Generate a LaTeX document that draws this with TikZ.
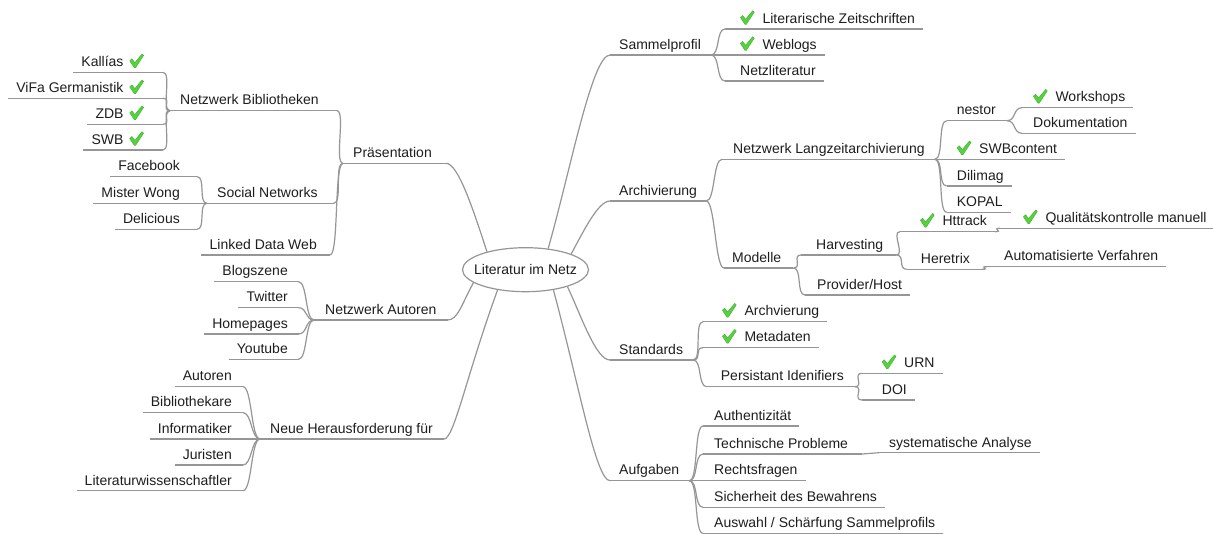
\documentclass[tikz,border=0pt]{standalone}
\usepackage{fontspec}
\setmainfont{Liberation Sans}
\usetikzlibrary{shapes.geometric}
\definecolor{lc}{RGB}{150,150,150}
\definecolor{txt}{RGB}{30,30,30}
\definecolor{chkg}{RGB}{85,210,60}
\definecolor{chkd}{RGB}{50,165,40}
\newcommand\chk{\tikz[baseline=0pt,x=1pt,y=1pt]\filldraw[draw=chkd,fill=chkg,line width=0.3pt,line join=round] (0,5.8) -- (2.3,7.8) -- (5.2,4.0) -- (12.3,12.6) -- (14,11.2) -- (5.9,-1.2) -- (4.7,-1.2) -- cycle;}
\newcommand\pad[1]{\hspace{#1}\mbox{}}
\tikzset{
  mm/.style={inner xsep=8pt, inner ysep=5.5pt, text depth=0pt, font=\fontsize{14}{16}\selectfont, text=txt},
  rnode/.style={mm, anchor=south west},
  lnode/.style={mm, anchor=south east},
  conn/.style={draw=lc, line width=1.2pt},
}
\begin{document}
\begin{tikzpicture}[x=1pt,y=-1pt]
\fill[white] (0,0) rectangle (1213,534);
\useasboundingbox (0,0) rectangle (1213,534);
% root
\node[ellipse, draw=lc, line width=1.2pt, fill=white, minimum width=126pt, minimum height=44pt, inner sep=0pt, font=\fontsize{14}{16}\selectfont, text=txt] (root) at (525.5,269.7) {\makebox[0pt]{Literatur im Netz}};
% right side
\node[rnode] (sam) at (610,55) {\hspace{1pt}Sammelprofil\pad{2pt}};
\node[rnode] (lit) at (725,29) {\hspace{7pt}\chk\hspace{8pt}Literarische Zeitschriften};
\node[rnode] (web) at (725,55) {\hspace{7pt}\chk\hspace{8pt}Weblogs};
\node[rnode] (netz) at (725,81) {\hspace{7pt}Netzliteratur};
\node[rnode] (arch) at (610,201) {\hspace{1pt}Archivierung\pad{1pt}};
\node[rnode] (nla) at (722,159.3) {\hspace{3pt}Netzwerk Langzeitarchivierung\pad{2pt}};
\node[rnode] (nes) at (946.7,120.7) {\hspace{2pt}nestor\pad{3pt}};
\node[rnode] (work) at (1022,107.7) {\hspace{3pt}\chk\hspace{8pt}Workshops};
\node[rnode] (doku) at (1022,133.3) {\hspace{3pt}Dokumentation};
\node[rnode] (swbc) at (946.7,159.3) {\hspace{2pt}\chk\hspace{8pt}SWBcontent};
\node[rnode] (dili) at (946.7,186) {\hspace{2pt}Dilimag};
\node[rnode] (kopal) at (946.7,212.3) {\hspace{2pt}KOPAL};
\node[rnode] (mod) at (724,268) {Modelle\pad{4pt}};
\node[rnode] (harv) at (801,255) {\hspace{7pt}Harvesting\pad{5pt}};
\node[rnode] (htt) at (900,231.7) {\hspace{12pt}\chk\hspace{8pt}Httrack};
\node[rnode] (qual) at (1000,228.3) {\hspace{15pt}\chk\hspace{8pt}Qualitätskontrolle manuell};
\node[rnode] (here) at (906.7,269.3) {\hspace{6pt}Heretrix\pad{4pt}};
\node[rnode] (auto) at (987,266.7) {\hspace{9pt}Automatisierte Verfahren};
\node[rnode] (prov) at (805,295) {\hspace{4pt}Provider/Host};
\node[rnode] (std) at (610,360) {\hspace{1pt}Standards\pad{2pt}};
\node[rnode] (archv) at (703,321.7) {\hspace{11pt}\chk\hspace{8pt}Archvierung};
\node[rnode] (meta) at (703,347.7) {\hspace{11pt}\chk\hspace{8pt}Metadaten};
\node[rnode] (pers) at (706.7,386.7) {\hspace{6pt}Persistant Idenifiers\pad{3pt}};
\node[rnode] (urn) at (861.7,373.3) {\hspace{12pt}\chk\hspace{8pt}URN};
\node[rnode] (doi) at (861.7,400) {\hspace{12pt}DOI};
\node[rnode] (auf) at (610,480.7) {\hspace{1pt}Aufgaben\pad{2pt}};
\node[rnode] (auth) at (703,426) {\hspace{3pt}Authentizität};
\node[rnode] (tech) at (703,454) {\hspace{3pt}Technische Probleme\pad{6pt}};
\node[rnode] (syst) at (879,452.7) {\hspace{2pt}systematische Analyse};
\node[rnode] (recht) at (703,480.7) {\hspace{3pt}Rechtsfragen};
\node[rnode] (sich) at (703,507.3) {\hspace{3pt}Sicherheit des Bewahrens};
\node[rnode] (ausw) at (703,533.3) {\hspace{3pt}Auswahl / Schärfung Sammelprofils};
% left side
\node[rnode] (pres) at (343,163.3) {\hspace{2pt}Präsentation\pad{6pt}};
\node[rnode] (nbib) at (170,110.7) {\hspace{2pt}Netzwerk Bibliotheken\pad{10pt}};
\node[lnode] (kal) at (163,72.3) {Kallías\hspace{6pt}\chk\pad{11pt}};
\node[lnode] (vifa) at (163,98.3) {ViFa Germanistik\hspace{6pt}\chk\pad{11pt}};
\node[lnode] (zdb) at (163,124.3) {ZDB\hspace{6pt}\chk\pad{11pt}};
\node[lnode] (swb) at (163,150) {SWB\hspace{6pt}\chk\pad{11pt}};
\node[rnode] (soc) at (207,203.3) {\hspace{2pt}Social Networks\pad{8pt}};
\node[lnode] (face) at (197,176.7) {Facebook\pad{9pt}};
\node[lnode] (mwong) at (200,203.3) {Mister Wong\pad{12pt}};
\node[lnode] (deli) at (197,229.3) {Delicious\pad{9pt}};
\node[lnode] (ldw) at (330,255) {Linked Data Web\pad{5pt}};
\node[rnode] (nau) at (314,320) {\hspace{3pt}Netzwerk Autoren\pad{3pt}};
\node[lnode] (blog) at (298.5,281.7) {Blogszene\pad{2.5pt}};
\node[lnode] (twit) at (298.5,307.7) {Twitter\pad{2.5pt}};
\node[lnode] (home) at (298.5,334) {Homepages\pad{2.5pt}};
\node[lnode] (yout) at (298.5,359.3) {Youtube\pad{2.5pt}};
\node[rnode] (neue) at (260,439) {\hspace{2pt}Neue Herausforderung für\pad{3pt}};
\node[lnode] (aut) at (243,386.7) {Autoren\pad{3pt}};
\node[lnode] (bibl) at (243,412.7) {Bibliothekare\pad{3pt}};
\node[lnode] (info) at (243,439) {Informatiker\pad{3pt}};
\node[lnode] (jur) at (243,465) {Juristen\pad{3pt}};
\node[lnode] (litw) at (243,490.7) {Literaturwissenschaftler\pad{3pt}};
% underlines
\foreach \n in {sam,lit,web,netz,arch,nla,nes,work,doku,swbc,dili,kopal,mod,harv,htt,qual,here,auto,prov,std,archv,meta,pers,urn,doi,auf,auth,tech,syst,recht,sich,ausw,pres,nbib,kal,vifa,zdb,swb,soc,face,mwong,deli,ldw,nau,blog,twit,home,yout,neue,aut,bibl,info,jur,litw}
  \draw[conn] (\n.south west) -- (\n.south east);
% root connectors
\draw[conn] (root.155) .. controls +(-14,-43) and +(12,0) .. (pres.south east);
\draw[conn] (root.194) .. controls +(-12,22) and +(10,0) .. (nau.south east);
\draw[conn] (root.216) .. controls +(-31,85) and +(10,0) .. (neue.south east);
\draw[conn] (root.43) .. controls +(22,-77) and +(-18,0) .. (sam.south west);
\draw[conn] (root.19) .. controls +(12,-22) and +(-12,0) .. (arch.south west);
\draw[conn] (root.-22) .. controls +(14,30) and +(-14,0) .. (std.south west);
\draw[conn] (root.-36) .. controls +(26,97) and +(-14,0) .. (auf.south west);
% right forks
\foreach \a/\b in {sam/lit,sam/web,sam/netz,arch/nla,arch/mod,nla/nes,nla/swbc,nla/dili,nla/kopal,nes/work,nes/doku,mod/harv,mod/prov,harv/htt,harv/here,htt/qual,here/auto,std/archv,std/meta,std/pers,pers/urn,pers/doi,auf/auth,auf/tech,auf/recht,auf/sich,auf/ausw,tech/syst}
  \draw[conn] (\a.south east) .. controls +(9,0) and +(-9,0) .. (\b.south west);
% left forks
\foreach \a/\b in {pres/nbib,pres/soc,pres/ldw,nbib/kal,nbib/vifa,nbib/zdb,nbib/swb,soc/face,soc/mwong,soc/deli,nau/blog,nau/twit,nau/home,nau/yout,neue/aut,neue/bibl,neue/info,neue/jur,neue/litw}
  \draw[conn] (\a.south west) .. controls +(-9,0) and +(9,0) .. (\b.south east);
\end{tikzpicture}
\end{document}
